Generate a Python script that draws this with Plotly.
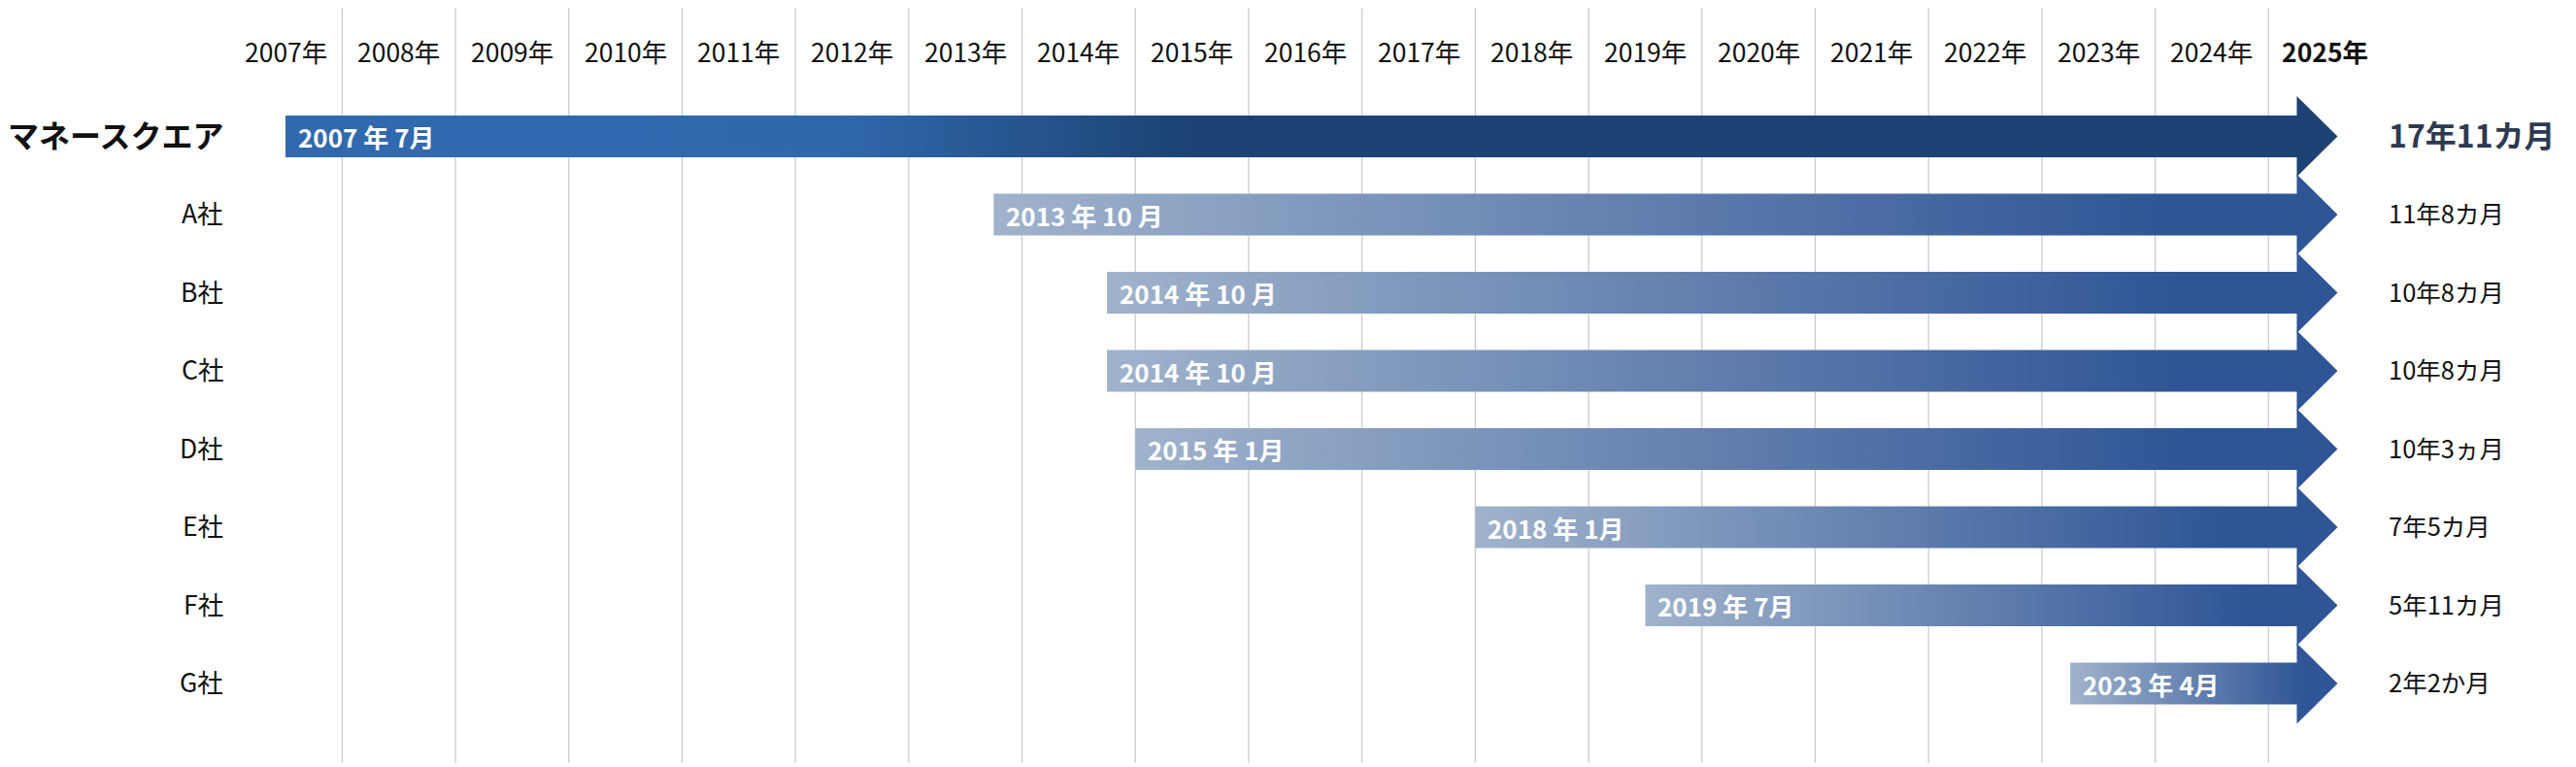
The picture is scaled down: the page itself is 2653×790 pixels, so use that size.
import plotly.graph_objects as go

# ---------------- data ----------------
companies = ["マネースクエア", "A社", "B社", "C社", "D社", "E社", "F社", "G社"]
start_year = [2007, 2013, 2014, 2014, 2015, 2018, 2019, 2023]
start_month = [7, 10, 10, 10, 1, 1, 7, 4]
durations = ["17年11カ月", "11年8カ月", "10年8カ月", "10年8カ月", "10年3ヵ月", "7年5カ月", "5年11カ月", "2年2か月"]
years = list(range(2007, 2026))
year_labels = [f"{y}年" for y in years]
as_of_year, as_of_month = 2025, 4

# ---------------- style ----------------
FONT = "Noto Sans CJK JP"
SHAFT = 0.267      # half height of the arrow shaft (row units)
HEAD = 0.516       # half height of the arrow head
HEAD_LEN = 0.36    # arrow head length (years)
GRID = "#c9c9c9"
W, H = 2645, 782   # page body has an 8px margin

main_scale = [[0, "#3169ae"], [0.27, "#3068ac"], [0.44, "#1c4373"], [1, "#1c4373"]]
other_scale = [[0, "#a0b3cc"], [0.87, "#2f5596"], [1, "#2f5596"]]


def frac(y, m):
    return y + (m - 1) / 12.0


end_x = frac(as_of_year, as_of_month)
tip_x = end_x + HEAD_LEN

fig = go.Figure()
annotations = []

for i, name in enumerate(companies):
    x0 = frac(start_year[i], start_month[i])
    xs = [x0, end_x, end_x, tip_x, end_x, end_x, x0, x0]
    ys = [i - SHAFT, i - SHAFT, i - HEAD, i, i + HEAD, i + SHAFT, i + SHAFT, i - SHAFT]
    scale = main_scale if i == 0 else other_scale
    fig.add_trace(go.Scatter(
        x=xs, y=ys, mode="lines", fill="toself",
        line=dict(width=0, color="rgba(0,0,0,0)"),
        fillgradient=dict(type="horizontal", colorscale=scale, start=x0, stop=tip_x),
        hoverinfo="skip", showlegend=False,
    ))
    m = start_month[i]
    mtxt = f"{m} 月" if m >= 10 else f"{m}月"
    annotations.append(dict(
        x=x0, y=i, xref="x", yref="y", xanchor="left", yanchor="middle",
        xshift=11, showarrow=False, text=f"{start_year[i]} 年 {mtxt}",
        font=dict(family=FONT, size=26, color="white", weight="bold"),
    ))
    # left labels
    annotations.append(dict(
        x=2006.97, y=i - 0.03, xref="x", yref="y", xanchor="right", yanchor="middle",
        showarrow=False, text=name,
        font=dict(family=FONT, size=32 if i == 0 else 26.5, color="#111111",
                  weight="bold" if i == 0 else "normal"),
    ))
    # right labels
    annotations.append(dict(
        x=2026.043, y=i - 0.03, xref="x", yref="y", xanchor="left", yanchor="middle",
        showarrow=False, text=durations[i],
        font=dict(family=FONT, size=32 if i == 0 else 25.5,
                  color="#2d3a4f" if i == 0 else "#111111",
                  weight="bold" if i == 0 else "normal"),
    ))

# year header labels
for y, lab in zip(years, year_labels):
    last = (y == years[-1])
    annotations.append(dict(
        x=y + 0.5, y=-1.099, xref="x", yref="y", xanchor="center", yanchor="middle",
        showarrow=False, text=lab,
        font=dict(family=FONT, size=26.5, color="#111111", weight="bold" if last else "normal"),
    ))

# vertical grid lines at year boundaries
shapes = []
for y in years[1:]:
    shapes.append(dict(
        type="line", xref="x", yref="paper", x0=y, x1=y, y0=0.005, y1=1.0,
        line=dict(color=GRID, width=1.2), layer="below",
    ))

fig.update_layout(
    width=W, height=H,
    margin=dict(l=0, r=0, t=0, b=0),
    paper_bgcolor="white", plot_bgcolor="white",
    xaxis=dict(range=[2005.049, 2027.714], visible=False, fixedrange=True),
    yaxis=dict(range=[8.068, -1.646], visible=False, fixedrange=True),
    annotations=annotations, shapes=shapes,
    showlegend=False,
    font=dict(family=FONT),
)

fig.write_html("out.html")
